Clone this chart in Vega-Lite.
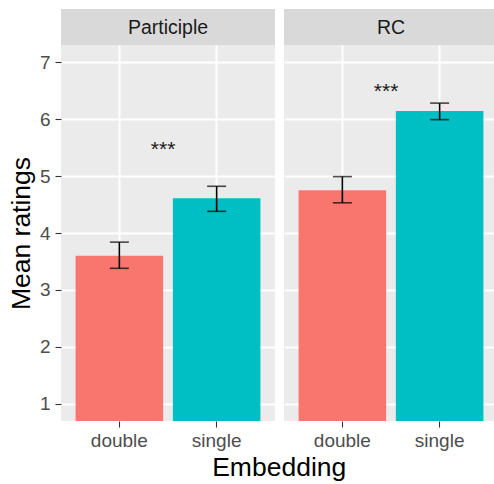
{
  "$schema": "https://vega.github.io/schema/vega-lite/v6.json",
  "padding": {"left": 8, "top": 9, "right": 10, "bottom": 3},
  "background": "white",
  "config": {
    "font": "Liberation Sans",
    "view": {"stroke": null},
    "concat": {"spacing": 9}
  },
  "title": {
    "text": "Embedding",
    "orient": "bottom",
    "anchor": "middle",
    "frame": "bounds",
    "fontSize": 26.5,
    "fontWeight": "normal",
    "color": "#000000",
    "offset": 5,
    "dx": 26
  },
  "datasets": {
    "bars": [
      {"panel": "Participle", "Embedding": "double", "mean": 3.60, "lo": 3.38, "hi": 3.84},
      {"panel": "Participle", "Embedding": "single", "mean": 4.61, "lo": 4.38, "hi": 4.82},
      {"panel": "RC", "Embedding": "double", "mean": 4.75, "lo": 4.53, "hi": 4.99},
      {"panel": "RC", "Embedding": "single", "mean": 6.14, "lo": 5.99, "hi": 6.28}
    ],
    "stars": [
      {"panel": "Participle", "Embedding": "double", "y": 5.53, "label": "***"},
      {"panel": "RC", "Embedding": "double", "y": 6.54, "label": "***"}
    ],
    "strips": [
      {"panel": "Participle"},
      {"panel": "RC"}
    ]
  },
  "hconcat": [
    {
      "spacing": 0,
      "vconcat": [
        {
          "width": 214,
          "height": 36,
          "view": {"fill": "#D9D9D9", "stroke": null},
          "data": {"name": "strips"},
          "transform": [{"filter": "datum.panel === 'Participle'"}],
          "mark": {"type": "text", "fontSize": 19.5, "color": "#1A1A1A", "baseline": "middle", "dy": 1},
          "encoding": {"text": {"field": "panel"}}
        },
        {
          "width": 214,
          "height": 376,
          "view": {"fill": "#EBEBEB", "stroke": null},
          "layer": [
            {
              "data": {"name": "bars"},
              "transform": [{"filter": "datum.panel === 'Participle'"}],
              "mark": {"type": "bar", "clip": true},
              "encoding": {
                "x": {"field": "Embedding", "type": "nominal", "title": null,
                  "scale": {"paddingInner": 0.1, "paddingOuter": 0.15},
                  "axis": {"labelAngle": 0, "labelFontSize": 19, "labelColor": "#4D4D4D", "tickColor": "#333333", "tickSize": 6, "tickWidth": 1.1, "labelPadding": 4, "domain": false, "grid": true, "gridColor": "#FFFFFF", "gridWidth": 2}},
                "y": {"field": "mean", "type": "quantitative", "title": "Mean ratings",
                  "scale": {"domain": [0.7, 7.3], "nice": false, "zero": false},
                  "axis": {"values": [1, 1.5, 2, 2.5, 3, 3.5, 4, 4.5, 5, 5.5, 6, 6.5, 7],
                    "format": "d",
                    "labelExpr": "datum.value % 1 === 0 ? datum.label : ''",
                    "labelFontSize": 19, "labelColor": "#4D4D4D", "labelPadding": 5,
                    "tickSize": 6, "tickColor": "#333333", "tickWidth": 1.1,
                    "tickOpacity": {"condition": {"test": "datum.value % 1 !== 0", "value": 0}, "value": 1},
                    "domain": false, "grid": true, "gridColor": "#FFFFFF",
                    "gridWidth": {"condition": {"test": "datum.value % 1 === 0", "value": 2}, "value": 1},
                    "titleFontSize": 26.5, "titleFontWeight": "normal", "titleColor": "#000000", "titlePadding": 4}},
                "color": {"field": "Embedding", "type": "nominal", "scale": {"domain": ["double", "single"], "range": ["#F8766D", "#00BFC4"]}, "legend": null}
              }
            },
            {
              "data": {"name": "bars"},
              "transform": [{"filter": "datum.panel === 'Participle'"}],
              "mark": {"type": "rule", "color": "#000000", "strokeWidth": 1.6},
              "encoding": {
                "x": {"field": "Embedding", "type": "nominal"},
                "y": {"field": "lo", "type": "quantitative"},
                "y2": {"field": "hi"}
              }
            },
            {
              "data": {"name": "bars"},
              "transform": [{"filter": "datum.panel === 'Participle'"}],
              "mark": {"type": "tick", "color": "#000000", "thickness": 1.6, "size": 19, "orient": "horizontal"},
              "encoding": {
                "x": {"field": "Embedding", "type": "nominal"},
                "y": {"field": "lo", "type": "quantitative"}
              }
            },
            {
              "data": {"name": "bars"},
              "transform": [{"filter": "datum.panel === 'Participle'"}],
              "mark": {"type": "tick", "color": "#000000", "thickness": 1.6, "size": 19, "orient": "horizontal"},
              "encoding": {
                "x": {"field": "Embedding", "type": "nominal"},
                "y": {"field": "hi", "type": "quantitative"}
              }
            },
            {
              "data": {"name": "stars"},
              "transform": [{"filter": "datum.panel === 'Participle'"}],
              "mark": {"type": "text", "fontSize": 21, "color": "#1A1A1A", "baseline": "middle", "dy": 4},
              "encoding": {
                "x": {"field": "Embedding", "type": "nominal", "bandPosition": 1},
                "y": {"field": "y", "type": "quantitative"},
                "text": {"field": "label"}
              }
            }
          ]
        }
      ]
    },
    {
      "spacing": 0,
      "vconcat": [
        {
          "width": 214,
          "height": 36,
          "view": {"fill": "#D9D9D9", "stroke": null},
          "data": {"name": "strips"},
          "transform": [{"filter": "datum.panel === 'RC'"}],
          "mark": {"type": "text", "fontSize": 19.5, "color": "#1A1A1A", "baseline": "middle", "dy": 1},
          "encoding": {"text": {"field": "panel"}}
        },
        {
          "width": 214,
          "height": 376,
          "view": {"fill": "#EBEBEB", "stroke": null},
          "layer": [
            {
              "data": {"name": "bars"},
              "transform": [{"filter": "datum.panel === 'RC'"}],
              "mark": {"type": "bar", "clip": true},
              "encoding": {
                "x": {"field": "Embedding", "type": "nominal", "title": null,
                  "scale": {"paddingInner": 0.1, "paddingOuter": 0.15},
                  "axis": {"labelAngle": 0, "labelFontSize": 19, "labelColor": "#4D4D4D", "tickColor": "#333333", "tickSize": 6, "tickWidth": 1.1, "labelPadding": 4, "domain": false, "grid": true, "gridColor": "#FFFFFF", "gridWidth": 2}},
                "y": {"field": "mean", "type": "quantitative", "title": null,
                  "scale": {"domain": [0.7, 7.3], "nice": false, "zero": false},
                  "axis": {"values": [1, 1.5, 2, 2.5, 3, 3.5, 4, 4.5, 5, 5.5, 6, 6.5, 7],
                    "labels": false, "ticks": false, "domain": false, "grid": true, "gridColor": "#FFFFFF",
                    "gridWidth": {"condition": {"test": "datum.value % 1 === 0", "value": 2}, "value": 1}}},
                "color": {"field": "Embedding", "type": "nominal", "scale": {"domain": ["double", "single"], "range": ["#F8766D", "#00BFC4"]}, "legend": null}
              }
            },
            {
              "data": {"name": "bars"},
              "transform": [{"filter": "datum.panel === 'RC'"}],
              "mark": {"type": "rule", "color": "#000000", "strokeWidth": 1.6},
              "encoding": {
                "x": {"field": "Embedding", "type": "nominal"},
                "y": {"field": "lo", "type": "quantitative"},
                "y2": {"field": "hi"}
              }
            },
            {
              "data": {"name": "bars"},
              "transform": [{"filter": "datum.panel === 'RC'"}],
              "mark": {"type": "tick", "color": "#000000", "thickness": 1.6, "size": 19, "orient": "horizontal"},
              "encoding": {
                "x": {"field": "Embedding", "type": "nominal"},
                "y": {"field": "lo", "type": "quantitative"}
              }
            },
            {
              "data": {"name": "bars"},
              "transform": [{"filter": "datum.panel === 'RC'"}],
              "mark": {"type": "tick", "color": "#000000", "thickness": 1.6, "size": 19, "orient": "horizontal"},
              "encoding": {
                "x": {"field": "Embedding", "type": "nominal"},
                "y": {"field": "hi", "type": "quantitative"}
              }
            },
            {
              "data": {"name": "stars"},
              "transform": [{"filter": "datum.panel === 'RC'"}],
              "mark": {"type": "text", "fontSize": 21, "color": "#1A1A1A", "baseline": "middle", "dy": 4},
              "encoding": {
                "x": {"field": "Embedding", "type": "nominal", "bandPosition": 1},
                "y": {"field": "y", "type": "quantitative"},
                "text": {"field": "label"}
              }
            }
          ]
        }
      ]
    }
  ]
}
